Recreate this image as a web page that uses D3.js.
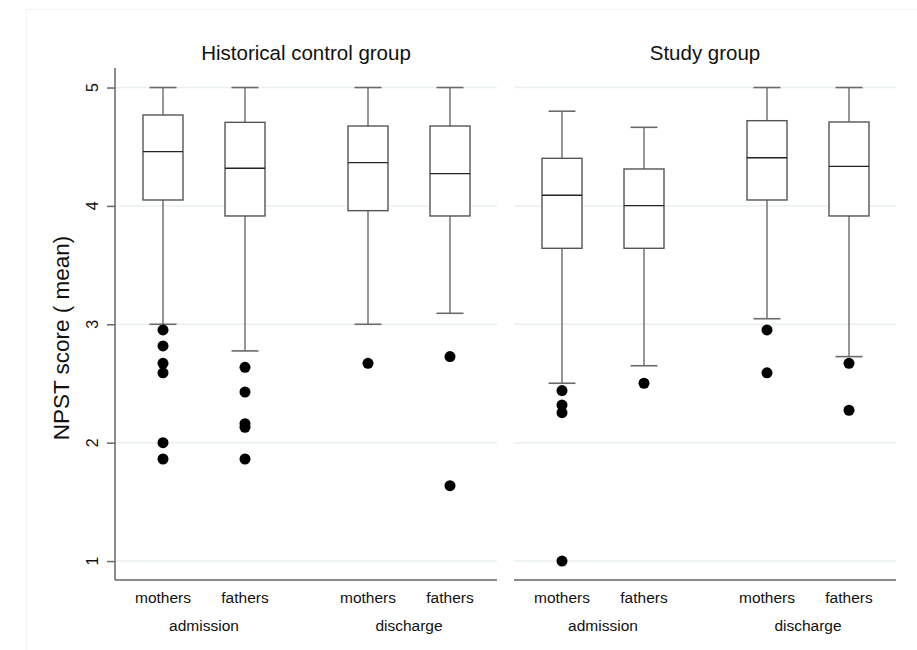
<!DOCTYPE html>
<meta charset="utf-8" />
<style>
  body { margin: 0; background: #fff; }
  text { font-family: "Liberation Sans", Arial, sans-serif; fill: #111; }
  .grid line { stroke: #e8f0f2; stroke-width: 1.5px; }
  .axis path, .axis line { stroke: #666; stroke-width: 1.5px; }
</style>
<svg width="917" height="650"></svg>
<script src="https://d3js.org/d3.v7.min.js"></script>
<script>
  // panels, categories and box stats
  var panels = ['Historical control group', 'Study group'];
  var occasions = ['admission', 'discharge'];
  var parents = ['mothers', 'fathers'];
  var yTicks = [1, 2, 3, 4, 5];

  // [lower whisker, q1, median, q3, upper whisker], order: adm mothers, adm fathers, dis mothers, dis fathers
  var controlStats = [
    [3.0, 4.05, 4.458, 4.768, 5.0],
    [2.775, 3.915, 4.318, 4.706, 5.0],
    [3.0, 3.96, 4.365, 4.675, 5.0],
    [3.093, 3.915, 4.272, 4.675, 5.0],
  ];
  var studyStats = [
    [2.502, 3.642, 4.09, 4.402, 4.8],
    [2.65, 3.642, 4.002, 4.312, 4.664],
    [3.047, 4.05, 4.407, 4.72, 5.0],
    [2.727, 3.915, 4.334, 4.709, 5.0],
  ];
  var controlOutliers = [
    [2.952, 2.817, 2.67, 2.59, 2.0, 1.862],
    [2.637, 2.428, 2.16, 2.13, 1.862],
    [2.67],
    [2.727, 1.637],
  ];
  var studyOutliers = [
    [2.44, 2.318, 2.253, 1.0],
    [2.502],
    [2.952, 2.59],
    [2.67, 2.274],
  ];

  var svg = d3.select('svg');

  // faint frame of the figure
  svg.append('rect')
    .attr('x', 26.5).attr('y', 9.5)
    .attr('width', 1000).attr('height', 700)
    .attr('fill', 'none').attr('stroke', '#f2f2f2');

  var y = d3.scaleLinear().domain([0.84, 5.165]).range([580, 68]);
  var panelW = 382;
  var panelX = [115, 514];
  // slot positions inside a panel: two boxes, a gap, two boxes
  var slots = [0, 1, 2.5, 3.5];
  var x = d3.scaleLinear().domain([0, 3.5]).range([48, 335]);
  var boxW = 40, capW = 27;

  var data = [
    { title: panels[0], stats: controlStats, outliers: controlOutliers },
    { title: panels[1], stats: studyStats, outliers: studyOutliers },
  ];

  data.forEach(function (p, pi) {
    var g = svg.append('g').attr('transform', 'translate(' + panelX[pi] + ',0)');

    g.append('g').attr('class', 'grid')
      .selectAll('line').data(yTicks).enter().append('line')
      .attr('x1', 0).attr('x2', panelW)
      .attr('y1', function (d) { return y(d); })
      .attr('y2', function (d) { return y(d); });

    // bottom axis line
    g.append('line')
      .attr('x1', 0).attr('x2', panelW)
      .attr('y1', 580).attr('y2', 580)
      .attr('stroke', '#666').attr('stroke-width', 1.5);

    if (pi === 0) {
      var ax = g.append('g').attr('class', 'axis')
        .call(d3.axisLeft(y).tickValues(yTicks).tickSize(8).tickSizeOuter(0).tickFormat(''));
      ax.select('.domain').attr('d', 'M0,' + y.range()[1] + 'V' + y.range()[0]);
      // rotated tick labels
      g.selectAll('.ylab').data(yTicks).enter().append('text')
        .attr('class', 'ylab')
        .attr('transform', function (d) { return 'translate(-23,' + y(d) + ') rotate(-90)'; })
        .attr('dy', '0.35em')
        .attr('text-anchor', 'middle')
        .style('font-size', '16px')
        .text(function (d) { return d; });
    }

    g.append('text')
      .attr('x', panelW / 2).attr('y', 60)
      .attr('text-anchor', 'middle')
      .style('font-size', '20.5px')
      .text(p.title);

    var boxes = g.selectAll('.box').data(p.stats).enter().append('g')
      .attr('class', 'box')
      .attr('transform', function (d, i) { return 'translate(' + x(slots[i]) + ',0)'; });

    // whiskers
    boxes.append('line')
      .attr('x1', 0).attr('x2', 0)
      .attr('y1', function (d) { return y(d[4]); })
      .attr('y2', function (d) { return y(d[3]); })
      .attr('stroke', '#6a6a6a').attr('stroke-width', 1.4);
    boxes.append('line')
      .attr('x1', 0).attr('x2', 0)
      .attr('y1', function (d) { return y(d[1]); })
      .attr('y2', function (d) { return y(d[0]); })
      .attr('stroke', '#6a6a6a').attr('stroke-width', 1.4);
    [0, 4].forEach(function (k) {
      boxes.append('line')
        .attr('x1', -capW / 2).attr('x2', capW / 2)
        .attr('y1', function (d) { return y(d[k]); })
        .attr('y2', function (d) { return y(d[k]); })
        .attr('stroke', '#6a6a6a').attr('stroke-width', 1.6);
    });

    boxes.append('rect')
      .attr('x', -boxW / 2).attr('width', boxW)
      .attr('y', function (d) { return y(d[3]); })
      .attr('height', function (d) { return y(d[1]) - y(d[3]); })
      .attr('fill', '#fff').attr('stroke', '#555').attr('stroke-width', 1.4);

    boxes.append('line')
      .attr('x1', -boxW / 2).attr('x2', boxW / 2)
      .attr('y1', function (d) { return y(d[2]); })
      .attr('y2', function (d) { return y(d[2]); })
      .attr('stroke', '#222').attr('stroke-width', 1.3);

    boxes.each(function (d, i) {
      d3.select(this).selectAll('circle').data(p.outliers[i]).enter().append('circle')
        .attr('cx', 0).attr('cy', function (v) { return y(v); })
        .attr('r', 5.5).attr('fill', '#000');
    });

    // category labels
    slots.forEach(function (s, i) {
      g.append('text')
        .attr('x', x(s)).attr('y', 603)
        .attr('text-anchor', 'middle')
        .style('font-size', '15.5px')
        .text(parents[i % 2]);
    });
    occasions.forEach(function (o, j) {
      g.append('text')
        .attr('x', (x(slots[j * 2]) + x(slots[j * 2 + 1])) / 2).attr('y', 631)
        .attr('text-anchor', 'middle')
        .style('font-size', '15.5px')
        .text(o);
    });
  });

  svg.append('text')
    .attr('transform', 'translate(69,338) rotate(-90)')
    .attr('text-anchor', 'middle')
    .style('font-size', '22.5px')
    .text('NPST score ( mean)');
</script>
